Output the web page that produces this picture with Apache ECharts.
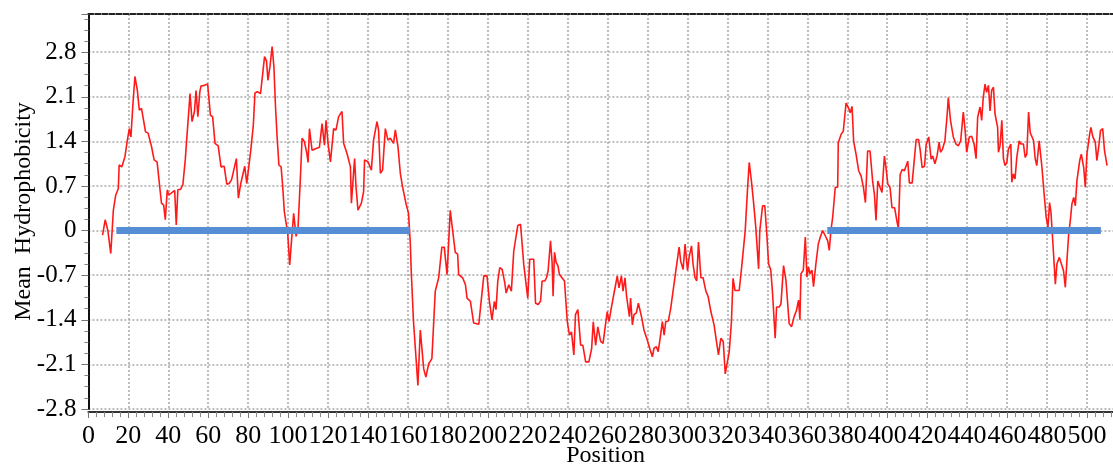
<!DOCTYPE html>
<html>
<head>
<meta charset="utf-8">
<title>Mean Hydrophobicity</title>
<script src="https://cdn.jsdelivr.net/npm/echarts@6/dist/echarts.min.js"></script>
<style>
  html, body { margin: 0; padding: 0; background: #ffffff; }
  #chart { width: 1113px; height: 464px; }
</style>
</head>
<body>
<div id="chart"></div>
<script>
// Residue positions along the sequence (sliding-window centres)
const positions = [
  7.1, 8.4, 9.7, 11.2, 12.5, 13.7, 15.0, 15.4, 16.7, 18.3, 19.5, 20.5, 21.3, 22.2, 23.3, 24.5, 25.5, 26.6, 27.5, 28.6,
  29.9, 31.6, 32.9, 34.4, 35.7, 36.6, 37.7, 38.5, 39.5, 40.2, 41.5, 43.2, 44.0, 44.8, 46.2, 47.3, 48.5, 49.5, 50.1, 50.9,
  51.9, 53.1, 53.9, 54.8, 55.8, 56.4, 58.1, 59.7, 61.1, 62.2, 63.4, 65.0, 66.4, 68.0, 69.3, 70.5, 71.7, 72.6, 74.1, 75.1,
  76.3, 77.1, 78.3, 79.3, 80.1, 81.3, 82.6, 83.4, 84.6, 86.2, 87.1, 88.2, 89.2, 89.9, 90.9, 92.0, 92.9, 93.7, 94.5, 95.4,
  96.5, 97.3, 98.1, 99.1, 99.8, 100.8, 102.0, 102.8, 104.0, 105.0, 106.1, 107.0, 108.1, 109.4, 110.0, 110.7, 112.0, 114.0, 115.7, 117.0,
  118.2, 119.0, 120.0, 121.2, 122.8, 124.0, 125.3, 127.0, 127.8, 129.5, 131.2, 131.7, 133.3, 134.0, 135.0, 136.7, 137.8, 138.3, 140.0, 141.7,
  142.8, 144.5, 145.3, 146.2, 147.3, 148.7, 150.0, 151.2, 152.8, 153.7, 155.0, 156.2, 157.3, 158.3, 159.0, 160.3, 161.2, 161.7, 162.8, 165.0,
  166.2, 167.9, 169.0, 170.4, 172.0, 173.7, 175.4, 177.0, 178.2, 179.6, 181.2, 182.4, 183.7, 184.9, 185.4, 187.4, 188.8, 189.6, 191.3, 192.9,
  195.5, 196.3, 198.0, 199.6, 200.8, 202.1, 203.3, 204.1, 205.0, 206.0, 207.2, 208.5, 209.2, 210.5, 211.8, 213.0, 213.8, 215.0, 216.4, 218.0,
  218.9, 220.0, 221.0, 221.9, 223.0, 223.9, 225.2, 226.4, 227.2, 228.6, 229.4, 230.2, 231.4, 232.2, 232.7, 233.4, 234.2, 235.1, 235.9, 236.9,
  238.4, 239.8, 240.9, 241.9, 243.1, 243.9, 245.1, 246.5, 247.6, 249.0, 250.6, 252.0, 252.8, 254.0, 255.1, 256.5, 257.7, 258.7, 259.8, 260.7,
  261.8, 262.7, 264.0, 264.8, 265.7, 266.9, 267.7, 268.7, 269.5, 270.9, 271.5, 272.4, 273.2, 274.4, 275.4, 276.0, 277.1, 278.2, 279.1, 279.9,
  281.1, 282.4, 283.2, 284.4, 285.3, 286.3, 287.4, 288.3, 289.1, 290.4, 291.6, 292.4, 293.8, 294.6, 295.8, 296.6, 297.8, 298.8, 300.0, 300.8,
  302.0, 302.8, 303.8, 304.6, 305.5, 306.7, 307.8, 309.2, 310.3, 311.7, 313.3, 314.5, 315.5, 316.7, 317.9, 318.9, 319.7, 320.9, 322.0, 322.8,
  323.8, 325.9, 327.2, 327.9, 328.9, 330.0, 330.9, 332.0, 333.0, 334.2, 335.6, 336.2, 337.6, 338.7, 339.6, 340.6, 341.7, 342.6, 343.9, 344.6,
  345.9, 346.8, 348.1, 349.3, 350.9, 352.1, 353.4, 354.6, 355.6, 356.3, 356.8, 358.0, 359.0, 359.8, 360.6, 361.3, 362.3, 363.1, 364.3, 365.5,
  366.5, 367.7, 368.5, 369.3, 370.2, 371.0, 371.8, 372.7, 374.0, 375.2, 375.5, 376.9, 378.0, 379.0, 379.4, 380.7, 381.5, 382.4, 383.2, 384.4,
  385.7, 386.9, 388.1, 389.1, 390.2, 391.4, 392.7, 393.6, 394.4, 395.3, 396.4, 397.4, 398.6, 399.4, 400.3, 401.4, 402.4, 403.7, 404.8, 405.6,
  406.5, 407.5, 408.6, 409.5, 410.3, 411.1, 412.5, 413.3, 414.5, 415.7, 416.5, 417.5, 418.7, 419.5, 420.8, 422.0, 422.8, 423.9, 425.0, 426.0,
  426.7, 427.7, 428.9, 430.0, 430.6, 431.7, 433.1, 434.4, 435.6, 436.8, 438.1, 438.9, 439.8, 441.1, 442.3, 443.5, 444.5, 445.3, 446.5, 447.3,
  448.1, 449.0, 449.8, 450.7, 451.5, 452.3, 453.2, 454.0, 455.3, 455.7, 456.5, 457.4, 458.2, 459.0, 459.9, 460.7, 461.9, 462.4, 463.2, 464.0,
  464.9, 466.1, 466.9, 468.2, 469.1, 469.9, 470.8, 471.6, 472.4, 473.3, 474.1, 474.9, 476.1, 476.6, 477.5, 478.3, 479.6, 480.5, 481.3, 482.0,
  483.0, 484.2, 485.0, 486.2, 487.2, 488.3, 489.2, 490.0, 490.9, 491.7, 492.5, 493.4, 494.2, 495.0, 496.4, 497.2, 498.4, 499.2, 500.0, 501.4,
  502.0, 503.0, 504.2, 505.0, 505.9, 506.8, 507.9, 508.8, 510.1
];

// Window-averaged hydrophobicity at each position
const hydrophobicity = [
  -0.07, 0.17, 0.01, -0.36, 0.32, 0.56, 0.66, 1.03, 1.00, 1.16, 1.42, 1.60, 1.47, 1.94, 2.42, 2.20, 1.89, 1.92, 1.89, 1.55,
  1.53, 1.32, 1.11, 1.08, 0.69, 0.43, 0.40, 0.17, 0.64, 0.56, 0.59, 0.63, 0.09, 0.64, 0.65, 0.72, 1.11, 1.55, 1.57, 2.15,
  1.71, 1.87, 2.20, 1.79, 2.18, 2.27, 2.28, 2.30, 1.81, 1.79, 1.37, 1.33, 1.00, 1.01, 0.73, 0.74, 0.80, 0.79, 1.13, 0.51,
  0.74, 0.72, 1.01, 0.74, 0.73, 1.26, 1.66, 2.16, 2.18, 2.15, 2.15, 2.73, 2.66, 2.36, 2.57, 2.89, 2.57, 1.94, 1.47, 1.03,
  1.00, 0.69, 0.30, 0.27, -0.04, -0.54, -0.04, 0.27, -0.09, 0.06, 0.79, 1.45, 1.40, 1.21, 1.07, 1.60, 1.26, 1.29, 1.31, 1.68,
  1.34, 1.73, 1.37, 1.08, 1.60, 1.58, 1.79, 1.87, 1.37, 1.21, 1.00, 0.43, 1.13, 0.69, 0.32, 0.43, 0.61, 1.11, 1.08, 0.95,
  1.42, 1.71, 1.58, 0.90, 0.95, 1.60, 1.42, 1.45, 1.37, 1.58, 1.32, 0.90, 0.69, 0.69, 0.43, 0.27, -0.20, -0.67, -1.43, -2.43,
  -1.56, -2.17, -2.30, -2.09, -2.01, -0.95, -0.74, -0.26, -0.26, -0.69, 0.32, 0.00, -0.34, -0.37, -0.69, -0.74, -0.85, -1.06, -1.11, -1.45,
  -1.47, -1.22, -0.71, -0.71, -1.11, -1.40, -1.11, -1.24, -0.79, -0.58, -0.61, -0.82, -0.98, -0.85, -0.95, -0.32, -0.29, 0.08, 0.10, -0.53,
  -0.55, -1.06, -0.45, -0.45, -0.45, -1.14, -1.16, -1.11, -0.79, -0.79, -0.74, -0.63, -0.16, -0.50, -1.03, -0.34, -0.50, -0.55, -0.69, -0.69,
  -0.79, -1.43, -1.64, -1.59, -1.95, -1.32, -1.24, -1.80, -1.80, -2.06, -2.06, -1.85, -1.43, -1.80, -1.51, -1.74, -1.77, -1.80, -1.27, -1.43,
  -1.22, -1.21, -0.85, -0.71, -0.90, -0.71, -0.95, -0.74, -1.03, -1.35, -1.06, -1.48, -1.32, -1.29, -1.14, -1.11, -1.37, -1.56, -1.58, -1.72,
  -1.85, -1.98, -1.85, -1.82, -1.90, -1.69, -1.43, -1.64, -1.43, -1.42, -1.22, -1.19, -0.71, -0.69, -0.26, -0.48, -0.61, -0.21, -0.63, -0.42,
  -0.24, -0.53, -0.74, -0.79, -0.18, -0.74, -0.74, -0.95, -1.03, -1.27, -1.48, -1.74, -1.95, -1.69, -1.74, -2.25, -2.27, -1.90, -1.43, -0.75,
  -0.94, -0.94, -0.55, -0.55, 0.00, 0.62, 1.07, 0.78, 0.47, 0.05, -0.60, 0.00, 0.39, 0.39, 0.00, -0.52, -0.62, -0.99, -1.69, -1.20,
  -1.20, -1.15, -0.55, -0.78, -1.46, -1.51, -1.35, -1.25, -1.09, -1.40, -0.68, -0.62, -0.10, -0.73, -0.57, -0.68, -0.62, -0.88, -0.52, -0.21,
  -0.10, 0.00, 0.00, -0.10, -0.16, -0.31, 0.00, 0.21, 0.68, 0.68, 1.38, 1.51, 1.56, 1.56, 2.00, 1.92, 1.85, 1.95, 1.40, 1.20,
  0.94, 0.86, 0.68, 0.44, 1.25, 1.25, 0.78, 0.57, 0.16, 0.78, 0.68, 0.60, 1.17, 0.99, 0.73, 0.68, 0.36, 0.36, 0.16, 0.03,
  0.88, 0.96, 0.94, 0.91, 1.09, 0.75, 0.75, 0.75, 1.43, 1.43, 1.27, 0.99, 1.01, 1.35, 1.47, 1.12, 1.17, 1.05, 1.18, 1.39,
  1.23, 1.28, 1.41, 1.81, 2.09, 1.73, 1.47, 1.36, 1.33, 1.41, 1.86, 1.62, 1.23, 1.47, 1.48, 1.36, 1.13, 1.78, 1.94, 1.73,
  2.09, 2.30, 2.17, 2.28, 1.88, 2.20, 2.25, 1.83, 1.62, 1.23, 1.33, 1.73, 1.13, 1.02, 1.07, 1.28, 1.36, 0.76, 0.89, 0.81,
  1.15, 1.41, 1.36, 1.36, 1.15, 1.20, 1.86, 1.54, 1.57, 1.41, 1.13, 1.02, 1.41, 1.26, 0.99, 0.68, 0.21, 0.05, 0.44, 0.29,
  -0.21, -0.84, -0.52, -0.42, -0.42, -0.63, -0.89, -0.47, -0.05, 0.16, 0.42, 0.52, 0.39, 0.78, 1.10, 1.20, 0.99, 0.68, 1.20, 1.52,
  1.62, 1.47, 1.39, 1.10, 1.31, 1.57, 1.60, 1.26, 1.02
];

// Highlighted regions drawn as bars on the zero level: [start, end]
const regionStarts = [14, 370];
const regionEnds = [161, 507];
const regionLevel = 0;

// Axis ranges
const xMin = 0, xMax = 518, xStep = 20;
const yMin = -2.8, yMax = 3.4, yStep = 0.7;

const profile = positions.map((p, i) => [p, hydrophobicity[i]]);

const regionSeries = regionStarts.map((s, i) => ({
  type: 'line',
  xAxisIndex: 0,
  yAxisIndex: 0,
  data: [[s, regionLevel], [regionEnds[i], regionLevel]],
  symbol: 'none',
  silent: true,
  z: 3,
  lineStyle: { color: '#558ed5', width: 7, cap: 'butt' }
}));

const serif = 'Liberation Serif, Times New Roman, serif';
const gridDots = { color: '#a8a8a8', width: 1.5, type: [2, 2] };

const chart = echarts.init(document.getElementById('chart'), null, { renderer: 'canvas' });

chart.setOption({
  animation: false,
  backgroundColor: '#ffffff',
  grid: {
    left: 88.4,
    top: 14,
    width: (xMax - xMin) * 1.997,
    height: 395,
    containLabel: false,
    outerBoundsMode: 'none'
  },
  xAxis: [
    {
      type: 'value',
      position: 'bottom',
      min: xMin,
      max: xMax,
      interval: xStep,
      offset: 3,
      name: 'Position',
      nameLocation: 'middle',
      nameGap: 32,
      nameMoveOverlap: false,
      nameTextStyle: { fontFamily: serif, fontSize: 24, color: '#000' },
      axisLine: { show: true, onZero: false, lineStyle: { color: '#333', width: 2 } },
      axisTick: { show: true, length: 6, lineStyle: { color: '#777', width: 1 } },
      minorTick: { show: true, splitNumber: 5, length: 5, lineStyle: { color: '#888', width: 1 } },
      axisLabel: {
        margin: 11,
        fontFamily: serif,
        fontSize: 26,
        color: '#000',
        showMaxLabel: false
      },
      splitLine: { show: true, lineStyle: gridDots }
    },
    {
      // dashed frame along the top edge
      type: 'value',
      position: 'top',
      min: xMin,
      max: xMax,
      interval: xStep,
      axisLine: { show: true, onZero: false, lineStyle: { color: '#222', width: 2, type: [5, 2] } },
      axisTick: { show: false },
      axisLabel: { show: false },
      splitLine: { show: false }
    }
  ],
  yAxis: {
    type: 'value',
    min: yMin,
    max: yMax,
    interval: yStep,
    name: 'Mean  Hydrophobicity',
    nameLocation: 'middle',
    nameGap: 53,
    nameMoveOverlap: false,
    nameTextStyle: { fontFamily: serif, fontSize: 24, color: '#000' },
    axisLine: { show: true, onZero: false, lineStyle: { color: '#111', width: 2 } },
    axisTick: { show: true, length: 7, lineStyle: { color: '#777', width: 1 } },
    minorTick: { show: true, splitNumber: 4, length: 4, lineStyle: { color: '#888', width: 1 } },
    axisLabel: {
      margin: 12,
      fontFamily: serif,
      fontSize: 25,
      color: '#000',
      showMaxLabel: false,
      formatter: v => (Math.abs(v) < 1e-9 ? '0' : v.toFixed(1))
    },
    splitLine: { show: true, showMaxLine: false, lineStyle: gridDots }
  },
  series: [
    {
      type: 'line',
      data: profile,
      symbol: 'none',
      z: 2,
      lineStyle: { color: '#ff1a1a', width: 1.6 }
    },
    ...regionSeries
  ]
});
</script>
</body>
</html>
